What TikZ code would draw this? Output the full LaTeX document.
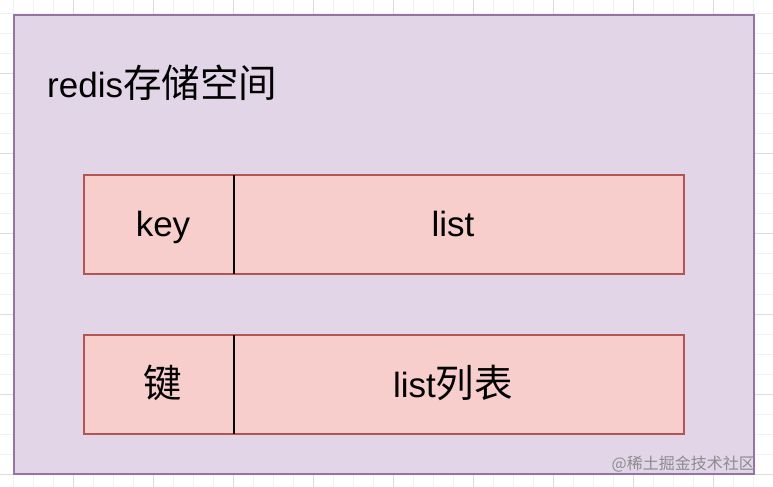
\documentclass[tikz,border=0pt]{standalone}
\usepackage{fontspec}
\setmainfont{Liberation Sans}
\newfontfamily\cjk{Noto Sans CJK SC}[Scale=1.1]
\newfontfamily\wmfont{Noto Sans CJK SC}
\definecolor{pfill}{HTML}{E1D5E7}
\definecolor{pdraw}{HTML}{9673A6}
\definecolor{rfill}{HTML}{F8CECC}
\definecolor{rdraw}{HTML}{B85450}
\definecolor{gminor}{HTML}{F2F2F2}
\definecolor{gmajor}{HTML}{DCDCDC}
\tikzset{
  minorline/.style={draw=gminor, line width=1bp},
  majorline/.style={draw=gmajor, line width=1bp},
  outerbox/.style={draw=pdraw, fill=pfill, line width=2bp, rectangle, inner sep=0pt},
  rowbox/.style={draw=rdraw, fill=rfill, line width=2bp, rectangle, inner sep=0pt, minimum width=600bp, minimum height=99bp},
  divider/.style={draw=black, line width=1.8bp},
  lbl/.style={inner sep=0pt, anchor=base, font=\fontsize{35bp}{42bp}\selectfont},
  wm/.style={inner sep=0pt, anchor=base east, text=black!45, font=\wmfont\fontsize{16bp}{19bp}\selectfont}
}
\begin{document}
\begin{tikzpicture}[x=1bp,y=-1bp]
\useasboundingbox (0,0) rectangle (773,487);
\fill[white] (0,0) rectangle (773,487);
\foreach \x in {13,33,...,773} \draw[minorline] (\x,0) -- (\x,487);
\foreach \y in {14,34,...,487} \draw[minorline] (0,\y) -- (773,\y);
\foreach \x in {73,153,...,773} \draw[majorline] (\x,0) -- (\x,487);
\foreach \y in {74,154,...,487} \draw[majorline] (0,\y) -- (773,\y);

\node[outerbox, minimum width=740bp, minimum height=459bp] (space) at (384,244.5) {};
\node[lbl, anchor=base west] (title) at (47,98) {redis{\cjk 存储空间}};

\node[rowbox] (row1) at (384,224.5) {};
\node[rowbox] (row2) at (384,384.5) {};
\coordinate (d1t) at (234,175);
\coordinate (d1b) at (234,274);
\coordinate (d2t) at (234,335);
\coordinate (d2b) at (234,434);
\draw[divider] (d1t) -- (d1b);
\draw[divider] (d2t) -- (d2b);

\node[lbl] (k1) at (163,237) {key};
\node[lbl] (v1) at (453,237) {list};
\node[lbl] (k2) at (163,397) {\cjk 键};
\node[lbl] (v2) at (453,397) {list{\cjk 列表}};

\node[wm] (mark) at (755,469) {@稀土掘金技术社区};
\end{tikzpicture}
\end{document}
